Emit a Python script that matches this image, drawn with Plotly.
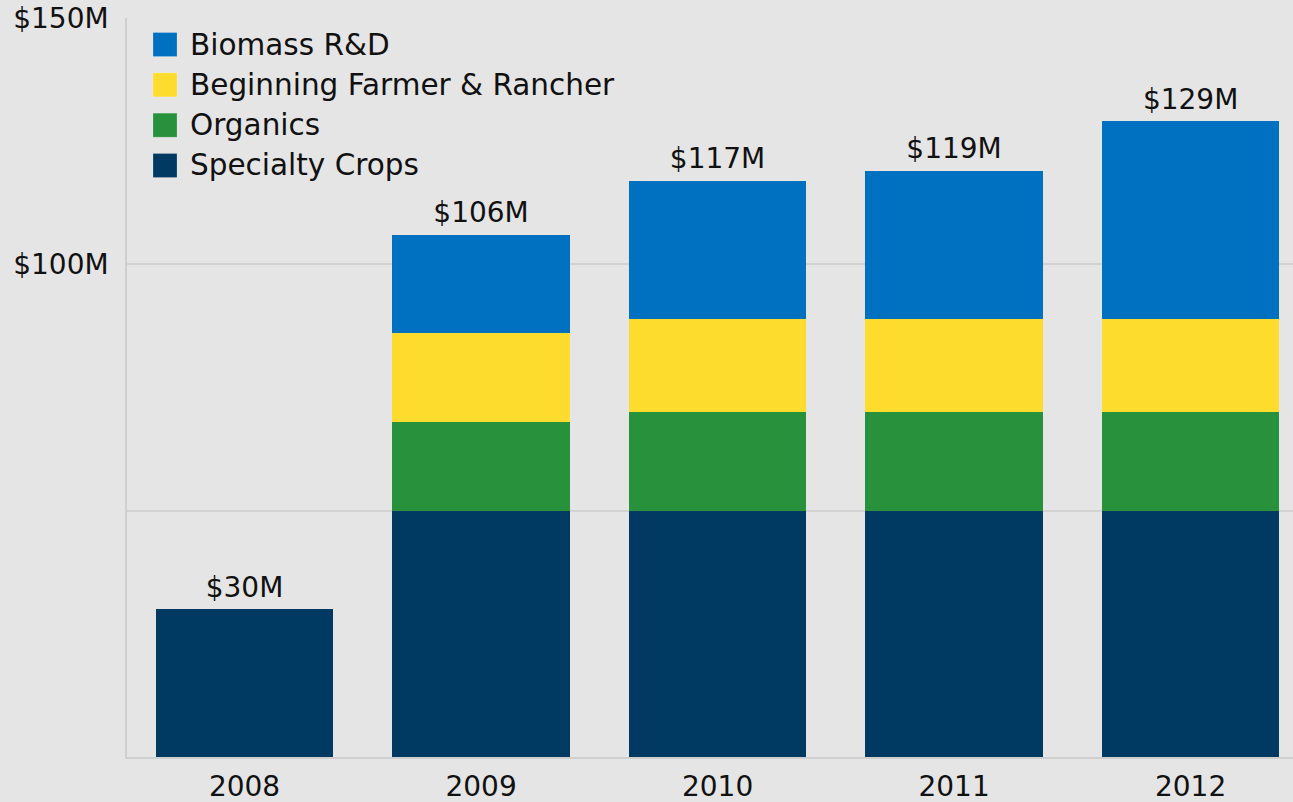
import plotly.graph_objects as go

years = ["2008", "2009", "2010", "2011", "2012"]
specialty = [30, 50, 50, 50, 50]
organics = [0, 18, 20, 20, 20]
beginning = [0, 18, 19, 19, 19]
biomass = [0, 20, 28, 30, 40]
totals = [30, 106, 117, 119, 129]
total_labels = ["$30M", "$106M", "$117M", "$119M", "$129M"]
ytick_vals = [0, 50, 100, 150]
ytick_text = ["", "", "$100M", "$150M"]

series = [
    ("Specialty Crops", specialty, "#003a63"),
    ("Organics", organics, "#27913b"),
    ("Beginning Farmer & Rancher", beginning, "#fddc2e"),
    ("Biomass R&D", biomass, "#0070c0"),
]

FONT = "DejaVu Sans"
BG = "#e5e5e5"
FS = 28

fig = go.Figure()
for name, vals, color in series:
    fig.add_trace(go.Bar(x=years, y=vals, name=name, marker_color=color,
                         marker_line_width=0, showlegend=False))

fig.add_trace(go.Scatter(x=years, y=totals, text=total_labels, mode="markers+text",
                         marker=dict(size=7, color="rgba(0,0,0,0)"),
                         textposition="top center", showlegend=False,
                         textfont=dict(family=FONT, size=FS, color="#111"),
                         hoverinfo="skip"))

# manual legend (top-left, inside plot)
for i, (name, vals, color) in enumerate(reversed(series)):
    yc = 45 + i * 40.3
    fig.add_shape(type="rect", xref="paper", yref="paper",
                  x0=(153 - 127) / 1166, x1=(177 - 127) / 1166,
                  y0=(757 - (yc + 12)) / 738.5, y1=(757 - (yc - 12)) / 738.5,
                  fillcolor=color, line=dict(width=0.5, color="rgba(255,255,255,0.4)"))
    fig.add_annotation(xref="paper", yref="paper", x=(188 - 127) / 1166,
                       y=(757 - yc) / 738.5, text=name, showarrow=False,
                       xanchor="left", yanchor="middle",
                       font=dict(family=FONT, size=29.5, color="#111"))

fig.update_layout(
    barmode="stack",
    bargap=0.25,
    width=1293, height=802,
    margin=dict(l=127, r=0, t=18, b=45),
    paper_bgcolor=BG, plot_bgcolor=BG,
    font=dict(family=FONT, size=FS, color="#111"),
    showlegend=False,
)
fig.update_xaxes(type="category", range=[-0.497, 4.433], showgrid=False,
                 showline=True, linecolor="#cfcfcf", linewidth=1.5,
                 ticks="", ticklabelstandoff=4,
                 tickfont=dict(family=FONT, size=FS, color="#111"))
fig.update_yaxes(range=[0, 150], tickvals=ytick_vals, ticktext=ytick_text,
                 showgrid=True, gridcolor="#d2d2d2", gridwidth=1.5,
                 showline=True, linecolor="#cfcfcf", linewidth=1.5,
                 zeroline=False, ticks="", ticklabelstandoff=11,
                 tickfont=dict(family=FONT, size=FS, color="#111"))

fig.write_html("out.html", config={"displayModeBar": False},
               post_script="document.body.style.margin='0';document.body.style.overflow='hidden';")
